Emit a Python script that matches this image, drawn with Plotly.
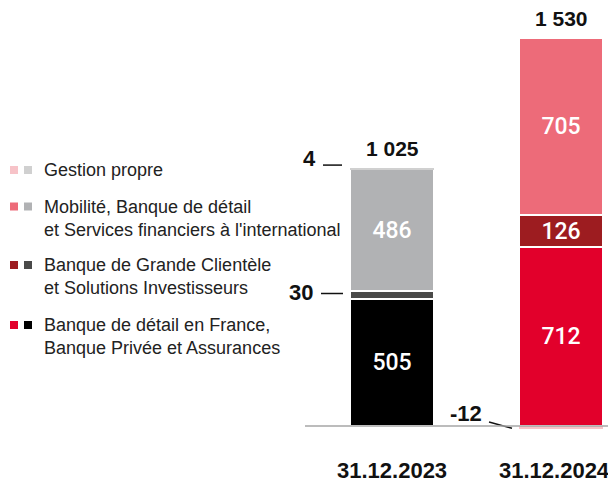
import plotly.graph_objects as go

# ---------------- data ----------------
categories = ["31.12.2023", "31.12.2024"]
retail_france = [505, 712]      # Banque de détail en France, Banque Privée et Assurances
cib = [30, 126]                 # Banque de Grande Clientèle et Solutions Investisseurs
ifs = [486, 705]                # Mobilité, Banque de détail et Services financiers à l'international
own_account = [4, -12]          # Gestion propre
totals = [1025, 1530]

legend_labels = [
    ["Gestion propre"],
    ["Mobilité, Banque de détail", "et Services financiers à l'international"],
    ["Banque de Grande Clientèle", "et Solutions Investisseurs"],
    ["Banque de détail en France,", "Banque Privée et Assurances"],
]

# colours: [2023 (greys), 2024 (reds)]
col_retail = ["#000000", "#e2002b"]
col_cib = ["#4a4a49", "#9d1c20"]
col_ifs = ["#b1b2b4", "#ed6b79"]
col_own = ["#d0d0d0", "#f7c3c8"]

# ---------------- layout helpers (page pixel coordinates) ----------------
OFF = 8                  # default page body margin
W, H = 608, 480          # figure size so that it fills the 616x488 window
BASE_PX = 426            # page row of zero line
S = 388 / 1542           # pixels per unit
XC0, XSTEP = 392, 169    # page pixel centre of first bar and spacing
BAR_W = 84 / XSTEP

FONT_IN = "Roboto, Liberation Sans, Arial, sans-serif"
FONT_W = "Liberation Sans, Arial, sans-serif"


def vy(px):
    return (BASE_PX - px) / S


def vx(px):
    return (px - XC0) / XSTEP


def px_y(v):
    return BASE_PX - v * S


def pxp(px):
    return (px - OFF) / W


def pyp(py):
    return 1 - (py - OFF) / H


fig = go.Figure()


def add_seg(vals, cols, name, line_w=2):
    txt = [str(v) if abs(v) * S > 20 else "" for v in vals]
    fig.add_trace(go.Bar(
        x=categories, y=vals, name=name, width=BAR_W,
        marker=dict(color=cols, line=dict(color="white", width=line_w)),
        text=txt, textposition="inside", insidetextanchor="middle",
        textangle=0, constraintext="none",
        textfont=dict(color="white", size=23, family=FONT_IN, weight=500),
        hoverinfo="skip", showlegend=False,
    ))


add_seg(retail_france, col_retail, "retail")
add_seg(cib, col_cib, "cib")
add_seg(ifs, col_ifs, "ifs")
add_seg(own_account, col_own, "own", line_w=0)

annotations = []
shapes = []

# totals above bars
for i, (c, t) in enumerate(zip(categories, totals)):
    top = sum(v for v in (retail_france[i], cib[i], ifs[i], own_account[i]) if v > 0)
    annotations.append(dict(
        x=c, y=top, yanchor="bottom", yshift=6, showarrow=False,
        text=f"{t:,}".replace(",", " "),
        font=dict(size=21, color="#111111", family=FONT_W, weight="bold"),
    ))

# category labels
for c, xs in zip(categories, [0, -7]):
    annotations.append(dict(
        x=c, y=vy(470), yanchor="middle", xshift=xs, showarrow=False, text=c,
        font=dict(size=22, color="#111111", family=FONT_W, weight="bold"),
    ))

# callout: 4 (gestion propre 2023)
top23 = retail_france[0] + cib[0] + ifs[0] + own_account[0]
annotations.append(dict(x=vx(309), y=vy(158), showarrow=False, text=str(own_account[0]),
                        font=dict(size=22, color="#111111", family=FONT_W, weight="bold")))
shapes.append(dict(type="line", x0=vx(323), x1=vx(342), y0=vy(px_y(top23) - 3), y1=vy(px_y(top23) - 3),
                   line=dict(color="#111111", width=1.5)))

# callout: 30 (CIB 2023)
annotations.append(dict(x=vx(301), y=vy(292), showarrow=False, text=str(cib[0]),
                        font=dict(size=22, color="#111111", family=FONT_W, weight="bold")))
shapes.append(dict(type="line", x0=vx(321), x1=vx(343), y0=vy(293.5), y1=vy(293.5),
                   line=dict(color="#111111", width=1.5)))

# callout: -12 (gestion propre 2024)
annotations.append(dict(x=vx(466), y=vy(413), showarrow=False, text=str(own_account[1]),
                        font=dict(size=22, color="#111111", family=FONT_W, weight="bold")))
shapes.append(dict(type="line", x0=vx(489), x1=vx(512), y0=vy(422), y1=own_account[1] / 1.3,
                   line=dict(color="#111111", width=1.5)))

# baseline
shapes.append(dict(type="line", xref="paper", x0=pxp(305), x1=1, y0=0, y1=0,
                   line=dict(color="#a6a6a6", width=1.5), layer="above"))

# legend (drawn manually: two swatches per entry)
leg_rows = [170, 206.5, 265, 325]
leg_cols = [
    (col_own[1], col_own[0]),
    (col_ifs[1], col_ifs[0]),
    (col_cib[1], col_cib[0]),
    (col_retail[1], col_retail[0]),
]
for yrow, (ca, cb), lines in zip(leg_rows, leg_cols, legend_labels):
    for x0, c in ((10, ca), (24, cb)):
        shapes.append(dict(type="rect", xref="paper", yref="paper",
                           x0=pxp(x0), x1=pxp(x0 + 8),
                           y0=pyp(yrow + 4), y1=pyp(yrow - 4),
                           fillcolor=c, line=dict(width=0)))
    for k, ln in enumerate(lines):
        annotations.append(dict(xref="paper", yref="paper", x=pxp(42), y=pyp(yrow + k * 23),
                                xanchor="left", yanchor="middle", showarrow=False, text=ln,
                                font=dict(size=18, color="#222222", family=FONT_W)))

fig.update_layout(
    width=W, height=H,
    margin=dict(l=0, r=0, t=0, b=0),
    paper_bgcolor="white", plot_bgcolor="white",
    barmode="relative", bargap=0,
    xaxis=dict(range=[vx(OFF), vx(OFF + W)], visible=False, type="category"),
    yaxis=dict(range=[vy(OFF + H), vy(OFF)], visible=False),
    annotations=annotations, shapes=shapes,
    showlegend=False,
)

fig.write_html("out.html")
